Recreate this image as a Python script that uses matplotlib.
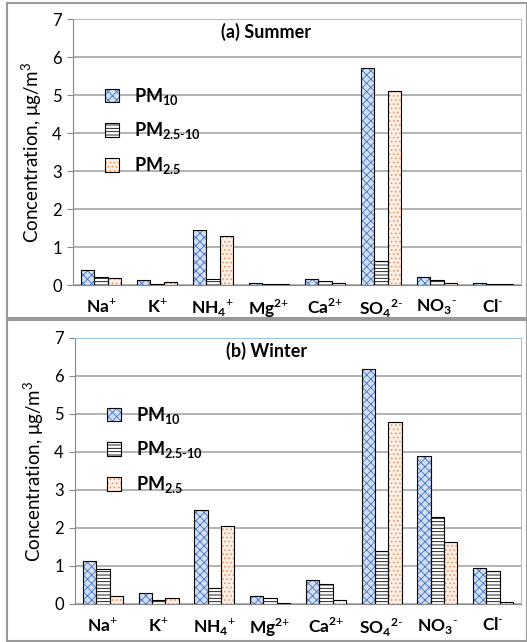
import matplotlib

matplotlib.use("Agg")
import matplotlib.pyplot as plt
import numpy as np
from matplotlib.legend_handler import HandlerTuple
from matplotlib.patches import Patch, Rectangle

plt.rcParams["font.family"] = ["Lato", "DejaVu Sans"]
plt.rcParams["mathtext.fontset"] = "custom"
plt.rcParams["mathtext.rm"] = "Lato"
plt.rcParams["mathtext.bf"] = "Lato:weight=bold"
plt.rcParams["hatch.linewidth"] = 0.6

ions = [r"Na$^{\mathbf{\text{+}}}$", r"K$^{\mathbf{\text{+}}}$",
        r"NH$_{\mathbf{4}}$$^{\mathbf{\text{+}}}$", r"Mg$^{\mathbf{2\text{+}}}$",
        r"Ca$^{\mathbf{2\text{+}}}$", r"SO$_{\mathbf{4}}$$^{\mathbf{2\text{-}}}$",
        r"NO$_{\mathbf{3}}$$^{\mathbf{\text{-}}}$", r"Cl$^{\mathbf{\text{-}}}$"]
series = [r"PM$_{\mathbf{10}}$", r"PM$_{\mathbf{2.5\text{-}10}}$", r"PM$_{\mathbf{2.5}}$"]

summer_pm10 = [0.40, 0.12, 1.45, 0.05, 0.17, 5.70, 0.20, 0.05]
summer_coarse = [0.20, 0.02, 0.15, 0.02, 0.10, 0.63, 0.14, 0.02]
summer_pm25 = [0.18, 0.08, 1.30, 0.02, 0.05, 5.10, 0.05, 0.02]

winter_pm10 = [1.12, 0.30, 2.47, 0.20, 0.63, 6.18, 3.90, 0.95]
winter_coarse = [0.92, 0.10, 0.43, 0.17, 0.52, 1.40, 2.28, 0.87]
winter_pm25 = [0.22, 0.15, 2.05, 0.03, 0.11, 4.80, 1.63, 0.06]

# (face, hatch, hatch colour) per series
styles = [("#d2dff3", "xxxx", "#4472c4"),
          ("white", "-----", "black"),
          ("#fdeee4", "....", "#f08d4f")]

fig = plt.figure(figsize=(5.27, 6.42), dpi=100)
W, H = 527, 642

# outer panel frames
for y0, y1 in [(3, 318), (320, 641)]:
    fig.patches.append(Rectangle((7 / W, 1 - y1 / H), (W - 7) / W, (y1 - y0) / H,
                                 transform=fig.transFigure, fill=False,
                                 edgecolor="#9a9a9a", linewidth=1.5))

panels = [
    ("(a) Summer", [summer_pm10, summer_coarse, summer_pm25], (73, 521, 19, 285)),
    ("(b) Winter", [winter_pm10, winter_coarse, winter_pm25], (75, 521, 338, 604)),
]

x = np.arange(len(ions))
bw = 0.24
for title, vals, (l, r, t, b) in panels:
    ax = fig.add_axes([l / W, 1 - b / H, (r - l) / W, (b - t) / H])
    handles = []
    for k, (v, (fc, hatch, hc)) in enumerate(zip(vals, styles)):
        pos = x + (k - 1) * bw
        ax.bar(pos, v, bw, color=fc, hatch=hatch, edgecolor=hc, linewidth=0, zorder=3)
        ax.bar(pos, v, bw, facecolor="none", edgecolor="black", linewidth=0.8, zorder=4)
        handles.append((Patch(facecolor=fc, hatch=hatch, edgecolor=hc, linewidth=0),
                        Patch(facecolor="none", edgecolor="black", linewidth=0.8)))
    ax.set_xlim(-0.5, len(ions) - 0.5)
    ax.set_ylim(0, 7)
    ax.set_yticks(range(8))
    ax.yaxis.grid(True, color="#a6a6a6", linewidth=1.2, zorder=0)
    ax.set_axisbelow(True)
    ax.set_xticks(x, ions, fontweight="bold", fontsize=12.5)
    ax.tick_params(axis="x", length=0, pad=9)
    ax.tick_params(axis="y", labelsize=12, length=4, color="#888888", pad=4)
    for s in ("top", "right"):
        ax.spines[s].set_color("#9dc3e6")
    for s in ("left", "bottom"):
        ax.spines[s].set_color("#888888")
    ax.set_ylabel(r"Concentration, μg/m$\mathrm{^3}$", fontsize=13.5, labelpad=6)
    ax.text(0.43, 0.985, title, transform=ax.transAxes, ha="center", va="top",
            fontsize=13, fontweight="bold")
    leg = ax.legend(handles, series, handler_map={tuple: HandlerTuple(ndivide=1)},
                    loc="upper left", bbox_to_anchor=(0.035, 0.81), frameon=False,
                    prop={"weight": "bold", "size": 13}, labelspacing=0.75,
                    handlelength=0.8, handleheight=0.8, handletextpad=0.8)

fig.savefig("out.png", dpi=100)
